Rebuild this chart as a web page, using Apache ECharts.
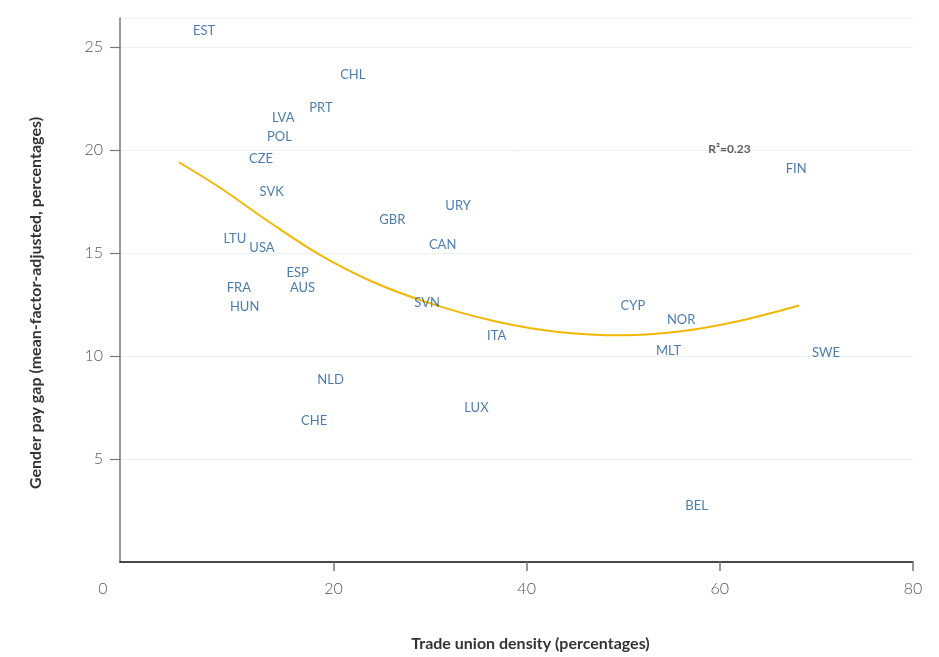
<!DOCTYPE html>
<html>
<head>
<meta charset="utf-8">
<style>
  html, body { margin: 0; padding: 0; background: #fff; }
  #main { width: 939px; height: 657px; }
</style>
<script src="https://cdn.jsdelivr.net/npm/echarts@6/dist/echarts.min.js"></script>
</head>
<body>
<div id="main"></div>
<script>
// countries, trade union density (x) and adjusted gender pay gap (y)
var countries = ['EST', 'CHL', 'PRT', 'LVA', 'POL', 'CZE', 'SVK', 'GBR', 'URY', 'CAN',
  'LTU', 'USA', 'ESP', 'AUS', 'FRA', 'HUN', 'SVN', 'ITA', 'NLD', 'CHE',
  'LUX', 'CYP', 'NOR', 'MLT', 'SWE', 'FIN', 'BEL'];
var unionDensity = [6.6, 22.0, 18.7, 14.8, 14.4, 12.5, 13.6, 26.1, 32.9, 31.3,
  9.8, 12.6, 16.3, 16.8, 10.2, 10.8, 29.7, 36.9, 19.7, 18.0,
  34.8, 51.0, 56.0, 54.7, 71.0, 67.9, 57.6];
var payGap = [25.8, 23.65, 22.05, 21.55, 20.65, 19.55, 17.95, 16.6, 17.3, 15.4,
  15.7, 15.25, 14.05, 13.3, 13.3, 12.4, 12.6, 11.0, 8.85, 6.85,
  7.5, 12.45, 11.75, 10.25, 10.15, 19.1, 2.75];

// fitted curve
var fitX = [4.0, 8.3, 13.5, 18.6, 23.8, 29.7, 36.6, 43.5, 50.0, 56.0, 62.0, 68.2];
var fitY = [19.4, 18.15, 16.45, 14.9, 13.65, 12.6, 11.7, 11.15, 11.0, 11.2, 11.7, 12.45];

var r2Label = 'R²=0.23';
var r2Pos = [61.0, 20.05];

var xTicks = [20, 40, 60, 80];

var points = countries.map(function (c, i) {
  return { name: c, value: [unionDensity[i], payGap[i]] };
});
var fitLine = fitX.map(function (x, i) { return [x, fitY[i]]; });

var xMin = -2.1;

var dom = document.getElementById('main');
var myChart = echarts.init(dom, null, { renderer: 'canvas' });

var option = {
  animation: false,
  textStyle: { fontFamily: 'Lato' },
  grid: { left: 120, right: 26, top: 18, bottom: 90 },
  xAxis: {
    type: 'value',
    min: xMin,
    max: 80,
    name: 'Trade union density (percentages)',
    nameLocation: 'middle',
    nameGap: 74,
    nameTextStyle: { fontSize: 16, fontWeight: 'bold', color: '#333', padding: [0, 0, 0, 28] },
    axisLine: { show: true, onZero: false, lineStyle: { color: '#111', width: 1.5 } },
    axisTick: { show: true, customValues: xTicks, length: 9, lineStyle: { color: '#777', width: 1.5 } },
    axisLabel: {
      customValues: [xMin].concat(xTicks),
      margin: 19,
      fontSize: 16,
      fontWeight: 300,
      color: '#555',
      formatter: function (v) {
        return v < 0 ? '{o|0}' : String(v);
      },
      rich: { o: { fontSize: 16, fontWeight: 300, color: '#555', padding: [0, 34, 0, 0] } }
    },
    splitLine: { show: false }
  },
  yAxis: {
    type: 'value',
    min: 0,
    max: 26.4,
    interval: 5,
    name: 'Gender pay gap (mean-factor-adjusted, percentages)',
    nameLocation: 'middle',
    nameGap: 76,
    nameTextStyle: { fontSize: 16, fontWeight: 'bold', color: '#333', padding: [0, 0, 0, -26] },
    axisLine: { show: true, onZero: false, lineStyle: { color: '#777', width: 1.5 } },
    axisTick: { show: true, length: 10, lineStyle: { color: '#777', width: 1.2 } },
    axisLabel: {
      showMinLabel: false,
      showMaxLabel: false,
      margin: 17,
      fontSize: 16,
      fontWeight: 300,
      color: '#555'
    },
    splitLine: { show: true, lineStyle: { color: '#e9f1f3', width: 1 } }
  },
  series: [
    {
      type: 'line',
      data: fitLine,
      smooth: 0.35,
      showSymbol: false,
      lineStyle: { color: '#f2b705', width: 2 },
      z: 1
    },
    {
      type: 'scatter',
      data: points,
      symbolSize: 1,
      itemStyle: { color: 'transparent' },
      label: {
        show: true,
        position: 'inside',
        formatter: '{b}',
        fontSize: 13,
        color: '#1d5a9a'
      },
      z: 3
    },
    {
      type: 'scatter',
      data: [{ name: r2Label, value: r2Pos }],
      symbolSize: 1,
      itemStyle: { color: 'transparent' },
      label: {
        show: true,
        position: 'inside',
        formatter: '{b}',
        fontSize: 12,
        fontWeight: 'bold',
        color: '#333'
      },
      z: 3
    }
  ]
};

myChart.setOption(option);
window.addEventListener('resize', myChart.resize);
</script>
</body>
</html>
